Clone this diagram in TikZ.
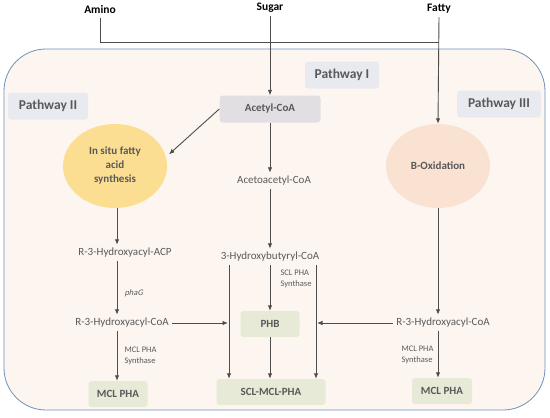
\documentclass[tikz,border=0pt]{standalone}
\usepackage{fontspec}
\setmainfont{Carlito}
\newfontfamily\slantfont{Carlito}[FakeSlant=0.22]
\usetikzlibrary{arrows.meta,shapes.geometric,positioning,calc}
\definecolor{CellBg}{RGB}{253,246,240}
\definecolor{FrameBlue}{RGB}{110,145,188}
\definecolor{TagGray}{RGB}{232,234,240}
\definecolor{AcetylGray}{RGB}{226,223,226}
\definecolor{SynthYellow}{RGB}{252,222,146}
\definecolor{OxPeach}{RGB}{250,226,210}
\definecolor{PhaGreen}{RGB}{231,234,214}
\definecolor{LabelGray}{RGB}{89,89,89}
\definecolor{ArrowGray}{RGB}{77,77,77}

\begin{document}
\begin{tikzpicture}[x=1pt,y=-1pt,>={Latex[length=5.5pt,width=4.5pt]},
    flow/.style={->,ArrowGray,line width=0.9pt},
    source/.style={font=\fontsize{11.5}{13}\selectfont\bfseries},
    tag/.style={fill=TagGray,rounded corners=3pt,text=LabelGray,minimum height=27pt,
      font=\fontsize{13.5}{15}\selectfont\bfseries},
    chem/.style={text=LabelGray,font=\fontsize{11}{12}\selectfont},
    enz/.style={text=LabelGray,font=\fontsize{8.5}{11.5}\selectfont,align=left,anchor=west},
    prod/.style={fill=PhaGreen,rounded corners=3pt,text=LabelGray,minimum height=26pt,
      font=\fontsize{11}{12}\selectfont\bfseries},
    pool/.style={ellipse,minimum width=104pt,minimum height=84pt,text=LabelGray,
      align=center,font=\fontsize{11}{14}\selectfont\bfseries}]
  \useasboundingbox (0,0) rectangle (550,418);
  % cell
  \draw[FrameBlue,fill=CellBg,line width=0.8pt,rounded corners=42pt] (4,49) rectangle (545,410);
  % columns
  \coordinate (c2) at (117,0);
  \coordinate (c1a) at (229,0);
  \coordinate (c1) at (270,0);
  \coordinate (c1b) at (316,0);
  \coordinate (junc) at (439,42);
  % carbon sources
  \node[source] (amino) at (100,10) {Amino};
  \node[source] (sugar) at (270,8) {Sugar};
  \node[source] (fatty) at (439,9) {Fatty};
  % pathway tags
  \node[tag,minimum width=74pt] (pw1) at (342,75) {Pathway I};
  \node[tag,minimum width=80pt] (pw2) at (48,106) {Pathway II};
  \node[tag,minimum width=84pt] (pw3) at (499,104) {Pathway III};
  % pathway I
  \node[fill=AcetylGray,rounded corners=3pt,text=LabelGray,minimum width=101pt,minimum height=27pt,
    font=\fontsize{11}{12}\selectfont\bfseries] (acetyl) at (270,109) {Acetyl-CoA};
  \node[chem] (acac) at (274,181) {Acetoacetyl-CoA};
  \node[chem] (hbc) at (270,257) {3-Hydroxybutyryl-CoA};
  \node[enz] (ssyn) at (277,279) {SCL PHA\\Synthase};
  \node[prod,minimum width=59pt] (phb) at (270,324) {PHB};
  \node[prod,minimum width=109pt] (scl) at (271,392) {SCL-MCL-PHA};
  % pathway II
  \node[pool,fill=SynthYellow] (fas) at (115,166) {In situ fatty\\acid\\synthesis};
  \node[chem] (acp) at (125,253) {R-3-Hydroxyacyl-ACP};
  \node[enz,font=\fontsize{8.5}{11}\slantfont] (phag) at (121,293) {phaG};
  \node[chem] (lcoa) at (122,323) {R-3-Hydroxyacyl-CoA};
  \node[enz] (lsyn) at (121,356) {MCL PHA\\Synthase};
  \node[prod,minimum width=59pt] (lmcl) at (118,394) {MCL PHA};
  % pathway III
  \node[pool,fill=OxPeach] (box) at (438,166) {B-Oxidation};
  \node[chem] (rcoa) at (443,323) {R-3-Hydroxyacyl-CoA};
  \node[enz] (rsyn) at (398,355) {MCL PHA\\Synthase};
  \node[prod,minimum width=60pt] (rmcl) at (442,391) {MCL PHA};
  % feed lines
  \draw[ArrowGray,line width=0.9pt] (amino.south) |- (junc);
  \draw[flow] (sugar.south) -- (acetyl.north);
  \draw[flow] (fatty.south) -- (box.north);
  % arrows
  \draw[flow,shorten >=4pt] (acetyl.west) -- (fas.10);
  \draw[flow] (acetyl.south -| c1) -- (acac.north -| c1);
  \draw[flow] (acac.south -| c1) -- (hbc.north -| c1);
  \draw[flow] (hbc.south -| c1) -- (phb.north -| c1);
  \draw[flow] (phb.south -| c1) -- (scl.north -| c1);
  \draw[flow] (hbc.south -| c1a) -- (scl.north -| c1a);
  \draw[flow] (hbc.south -| c1b) -- (scl.north -| c1b);
  \draw[flow] (fas.south -| c2) -- (acp.north -| c2);
  \draw[flow] (acp.south -| c2) -- (lcoa.north -| c2);
  \draw[flow] (lcoa.south -| c2) -- (lmcl.north -| c2);
  \draw[flow,shorten >=1pt] (lcoa.east) -- (lcoa.east -| c1a);
  \draw[flow] (box.south) -- (rcoa.north -| box.south);
  \draw[flow] (rcoa.south -| box.south) -- (rmcl.north -| box.south);
  \draw[flow,shorten >=1pt] (rcoa.west) -- (rcoa.west -| c1b);
\end{tikzpicture}
\end{document}
